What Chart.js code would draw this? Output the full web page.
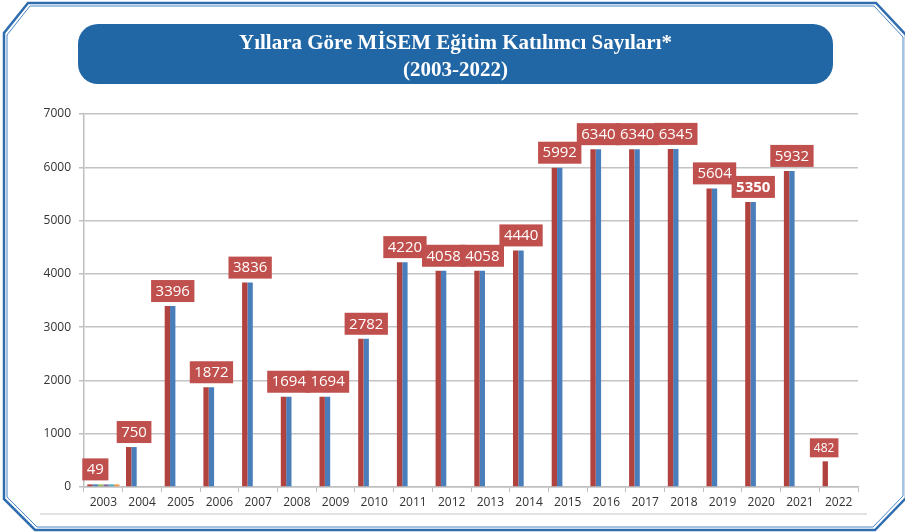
<!DOCTYPE html>
<html>
<head>
<meta charset="utf-8">
<script src="https://cdn.jsdelivr.net/npm/chart.js@4.4.1/dist/chart.umd.min.js"></script>
<style>
  body { margin: 0; background: #fff; }
  #wrap { width: 905px; height: 532px; }
</style>
</head>
<body>
<div id="wrap"><canvas id="chart" width="905" height="532"></canvas></div>
<script>
const years = ['2003', '2004', '2005', '2006', '2007', '2008', '2009', '2010', '2011', '2012',
    '2013', '2014', '2015', '2016', '2017', '2018', '2019', '2020', '2021', '2022'];
const participants = [49, 750, 3396, 1872, 3836, 1694, 1694, 2782, 4220, 4058,
    4058, 4440, 5992, 6340, 6340, 6345, 5604, 5350, 5932, 482];
const participantsShadow = [49, 750, 3396, 1872, 3836, 1694, 1694, 2782, 4220, 4058,
    4058, 4440, 5992, 6340, 6340, 6345, 5604, 5350, 5932, null];
// small extra series that only show up in 2003
const extraSeries = [49, 49, 49, 49];
const extraColors = ['#9bbb59', '#8064a2', '#4bacc6', '#f79646'];
const titleLines = ['Yıllara Göre MİSEM Eğitim Katılımcı Sayıları*', '(2003-2022)'];
const yTicks = [0, 1000, 2000, 3000, 4000, 5000, 6000, 7000];

const decor = {
    id: 'decor',
    beforeDraw(chart) {
        const ctx = chart.ctx;
        ctx.save();
        // double blue frame with cut corners
        const outer = [[28, 3], [876, 3], [906, 35], [906, 498], [875, 530], [35, 530], [4, 499], [4, 33]];
        const inner = [[30, 6], [874, 6], [903, 37], [903, 496], [873, 527], [37, 527], [7, 497], [7, 35]];
        [[outer, 2.5, '#2e6db0'], [inner, 1, '#4a86c5']].forEach(([pts, w, c]) => {
            ctx.beginPath();
            pts.forEach((p, i) => i ? ctx.lineTo(p[0], p[1]) : ctx.moveTo(p[0], p[1]));
            ctx.closePath();
            ctx.lineWidth = w;
            ctx.strokeStyle = c;
            ctx.stroke();
        });
        // thin gray line under the plot
        ctx.beginPath();
        ctx.moveTo(40, 514);
        ctx.lineTo(867, 514);
        ctx.lineWidth = 1.5;
        ctx.strokeStyle = '#d9d9d9';
        ctx.stroke();
        // title box
        ctx.beginPath();
        ctx.roundRect(78, 24, 755, 60, 20);
        ctx.fillStyle = '#2166a5';
        ctx.fill();
        ctx.fillStyle = '#fff';
        ctx.font = 'bold 21px "Liberation Serif"';
        ctx.textAlign = 'center';
        ctx.textBaseline = 'middle';
        ctx.fillText(titleLines[0], 455.5, 44);
        ctx.fillText(titleLines[1], 455.5, 71);
        ctx.restore();
    },
    afterDatasetsDraw(chart) {
        const ctx = chart.ctx;
        const xs = chart.scales.x;
        const meta = chart.getDatasetMeta(0);
        ctx.save();
        ctx.textAlign = 'center';
        ctx.textBaseline = 'middle';
        meta.data.forEach((bar, i) => {
            const last = i === participants.length - 1;
            const txt = String(participants[i]);
            ctx.font = (i === 17 ? 'bold ' : '') + (last ? '12px' : '15px') + ' "Open Sans"';
            const w = ctx.measureText(txt).width + (last ? 8 : 9);
            const h = last ? 19 : 22;
            const cx = xs.getPixelForValue(i) - (last ? 14.5 : 8);
            const bottom = bar.y - 4;
            ctx.fillStyle = '#c0504d';
            ctx.fillRect(cx - w / 2, bottom - h, w, h);
            ctx.fillStyle = '#fff';
            ctx.fillText(txt, cx, bottom - h / 2 + 0.5);
        });
        ctx.restore();
    }
};

const datasets = [
    { data: participants, backgroundColor: '#b0433f' },
    { data: participantsShadow, backgroundColor: '#4a7ebb' }
];
extraSeries.forEach((v, k) => {
    datasets.push({ data: [v], backgroundColor: extraColors[k] });
});
datasets.forEach(d => {
    d.borderWidth = 0;
    d.categoryPercentage = 0.83;
    d.barPercentage = 1;
});

const tickFont = { family: '"Open Sans"', size: 12 };

new Chart('chart', {
    type: 'bar',
    data: { labels: years, datasets: datasets },
    options: {
        responsive: false,
        animation: false,
        layout: { padding: { left: 0, right: 47, top: 114, bottom: 15 } },
        plugins: { legend: { display: false }, tooltip: { enabled: false } },
        scales: {
            x: {
                afterFit(s) { s.height = 30; },
                grid: { color: 'transparent', tickColor: '#bfbfbf', tickLength: 5, drawOnChartArea: false },
                border: { color: '#bfbfbf', width: 1.5 },
                ticks: { font: tickFont, color: '#333', padding: 3, maxRotation: 0, autoSkip: false }
            },
            y: {
                min: 0,
                max: 7000,
                afterFit(s) { s.width = 84; },
                afterBuildTicks(s) { s.ticks = yTicks.map(v => ({ value: v })); },
                grid: { color: '#c4c4c4', lineWidth: 1.5, tickColor: '#bfbfbf', tickLength: 5 },
                border: { color: '#bfbfbf', width: 1.5 },
                ticks: { font: tickFont, color: '#333', padding: 8, callback: v => String(v) }
            }
        }
    },
    plugins: [decor]
});
</script>
</body>
</html>
